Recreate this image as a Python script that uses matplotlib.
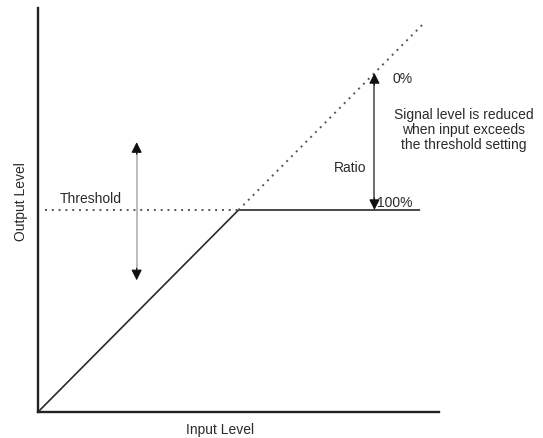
import matplotlib.pyplot as plt

plt.rcParams['font.family'] = ['Liberation Sans', 'DejaVu Sans']

# transfer curve of a compressor (input level -> output level)
threshold = 50
curve_in = [0, 50, 95.3]
curve_out = [0, 50, 50]
# uncompressed continuation (dotted)
unity_in = [50, 96.5]
unity_out = [50, 96.5]
# threshold guide
thr_x = [1.7, 50]
# threshold adjust arrow (x, y_low, y_high)
thr_arrow = (24.6, 32.6, 66.8)
# ratio arrow (x, y_low, y_high)
ratio_arrow = (83.9, 50, 83.9)

fig = plt.figure(figsize=(5.43, 4.38), dpi=100)
ax = fig.add_axes([38 / 543, 26 / 438, 401 / 543, 404 / 438])
ax.set_xlim(0, 100)
ax.set_ylim(0, 100)
for s in ['top', 'right']:
    ax.spines[s].set_visible(False)
for s in ['left', 'bottom']:
    ax.spines[s].set_linewidth(1.7)
    ax.spines[s].set_color('#222222')
ax.set_xticks([])
ax.set_yticks([])

ax.plot(curve_in, curve_out, color='#2a2a2a', lw=1.2, solid_capstyle='butt')
ax.plot(unity_in, unity_out, color='#555555', lw=1.4, ls=(0, (1, 2.5)), clip_on=False)
ax.plot(thr_x, [threshold, threshold], color='#555555', lw=1.4, ls=(0, (1, 2.5)))


def double_arrow(x, y0, y1, shaft):
    ax.plot([x, x], [y0 + 1, y1 - 1], color=shaft, lw=1.2)
    for tip, base in [(y1, y1 - 3), (y0, y0 + 3)]:
        ax.annotate('', xy=(x, tip), xytext=(x, base),
                    arrowprops=dict(arrowstyle='-|>', color='#111111',
                                    mutation_scale=16, shrinkA=0, shrinkB=0, lw=0.8))


double_arrow(*thr_arrow, shaft='#b0b0b0')
double_arrow(*ratio_arrow, shaft='#555555')

tc = '#2a2a2a'
fs = 10
ax.text(13.1, 52.6, 'Threshold', ha='center', va='center', fontsize=fs, color=tc)
ax.text(88.3, 82.4, '0%', ha='left', va='center', fontsize=fs, color=tc)
ax.text(84.6, 51.7, '100%', ha='left', va='center', fontsize=fs, color=tc)
ax.text(77.8, 60.4, 'Ratio', ha='center', va='center', fontsize=fs, color=tc)
ax.text(106.2, 69.8, 'Signal level is reduced\nwhen input exceeds\nthe threshold setting',
        ha='center', va='center', fontsize=fs, color=tc, linespacing=1.05, clip_on=False)
ax.text(-4.3, 52, 'Output Level', ha='center', va='center', rotation=90,
        fontsize=fs, color=tc, clip_on=False)
ax.text(45.3, -4.5, 'Input Level', ha='center', va='center', fontsize=fs, color=tc,
        clip_on=False)

fig.savefig('out.png', dpi=100)
